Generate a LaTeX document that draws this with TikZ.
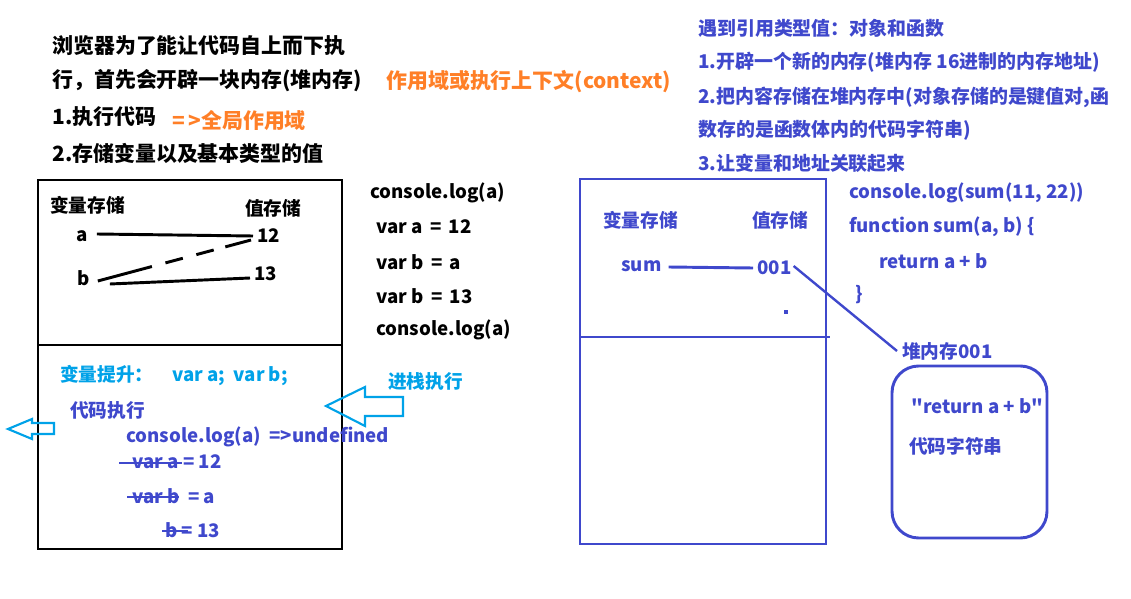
\documentclass[tikz,border=0pt]{standalone}
\usepackage{fontspec}
\setmainfont{Noto Sans CJK SC}[Ligatures=TeXOff]
\definecolor{ind}{HTML}{3F48CC}
\definecolor{lb}{HTML}{00A2E8}
\definecolor{org}{HTML}{FF7F27}
\begin{document}
\begin{tikzpicture}[x=0.75pt,y=-0.75pt,
  txt/.style={anchor=west,inner sep=0pt,font=\fontsize{15.7}{18}\selectfont\bfseries},
  rtx/.style={anchor=west,inner sep=0pt,font=\fontsize{14.2}{17}\selectfont\bfseries,text=ind},
  code/.style={anchor=west,inner sep=0pt,font=\fontsize{14}{16}\selectfont\bfseries},
  box/.style={line width=2.2pt},
  conn/.style={line width=2.2pt},
  hollow/.style={draw=lb,line width=1.6pt,line join=miter}]
\useasboundingbox (0,0) rectangle (1131,599);
% top-left text
\node[txt] (l1) at (52,46) {浏览器为了能让代码自上而下执};
\node[txt] (l2) at (52,81) {行，首先会开辟一块内存(堆内存)};
\node[txt] (l3) at (52,117) {1.执行代码};
\node[txt,text=org] (l3b) at (172,121) {=\,>全局作用域};
\node[txt] (l4) at (52,153) {2.存储变量以及基本类型的值};
\node[txt,text=org] (ctx) at (386,82) {作用域或执行上下文(context)};
% left box
\draw[box] (38,180) rectangle (342,549);
\draw[box] (38,345) -- (342,345);
\node[code] (vs) at (50,205) {变量存储};
\node[code] (zs) at (245,208) {值存储};
\node[code] (a) at (76,236) {a};
\node[code] (n12) at (257,236) {12};
\node[code] (b) at (77,278) {b};
\node[code] (n13) at (254,274) {13};
\draw[conn] ([shift={(9,-2)}]a.east) -- ([shift={(-4,0)}]n12.west);
\draw[conn,dash pattern=on 42pt off 10.5pt on 13.5pt off 10.5pt on 13.5pt off 9pt on 20pt] ([shift={(8,3)}]b.east) -- ([shift={(-6,4)}]n12.west);
\draw[conn] ([shift={(20,6)}]b.east) -- ([shift={(-4,4)}]n13.west);
% lower part
\node[code,text=lb] (hoist) at (60,376) {变量提升：\quad var a;\ \ var b;};
\node[code,text=ind] (exe) at (70,410) {代码执行};
\node[code,text=ind] (c1) at (126,437) {console.log(a)\ \ =>undefined};
\node[code,text=ind] (c2) at (132,462) {var a = 12};
\node[code,text=ind] (c3) at (132,496) {var b\ \ = a};
\node[code,text=ind] (c4) at (165,530) {b = 13};
\draw[ind,line width=1.8pt] (119,463) -- (182,463);
\draw[ind,line width=1.8pt] (127,497) -- (179,497);
\draw[ind,line width=1.8pt] (162,531) -- (188,531);
% hollow arrows
\draw[hollow] (8,429) -- (32,419) -- (32,423) -- (54,423) -- (54,434) -- (32,434) -- (32,439) -- cycle;
\draw[hollow] (326,406) -- (365,387) -- (365,397) -- (403,397) -- (403,416) -- (365,416) -- (365,426) -- cycle;
\node[code,text=lb] (push) at (388,381) {进栈执行};
% middle code
\node[code] (m1) at (370,193) {console.log(a)};
\node[code] (m2) at (376,227) {var a\ \,=\ \,12};
\node[code] (m3) at (376,262) {var b\ \,=\ \,a};
\node[code] (m4) at (376,296) {var b\ \,=\ \,13};
\node[code] (m5) at (376,330) {console.log(a)};
% top-right text
\node[rtx] (r1) at (698,28) {遇到引用类型值：对象和函数};
\node[rtx] (r2) at (698,62) {1.开辟一个新的内存(堆内存 16进制的内存地址)};
\node[rtx] (r3) at (698,97) {2.把内容存储在堆内存中(对象存储的是键值对,函};
\node[rtx] (r4) at (698,130) {数存的是函数体内的代码字符串)};
\node[rtx] (r5) at (698,163) {3.让变量和地址关联起来};
% right box
\draw[box,ind] (580,179) rectangle (826,544);
\draw[box,ind] (580,337) -- (830,337);
\node[code,text=ind] (rvs) at (603,220) {变量存储};
\node[code,text=ind] (rzs) at (752,220) {值存储};
\node[code,text=ind] (sum) at (621,266) {sum};
\node[code,text=ind] (a001) at (757,268) {001};
\fill[ind] (784,310) rectangle (788,314);
\draw[conn,ind] ([shift={(7,1)}]sum.east) -- ([shift={(-4,0)}]a001.west);
% right code
\node[code,text=ind] (k1) at (849,193) {console.log(sum(11, 22))};
\node[code,text=ind] (k2) at (849,227) {function sum(a, b) \{};
\node[code,text=ind] (k3) at (879,261) {return a\ +\ b};
\node[code,text=ind] (k4) at (855,295) {\}};
% heap
\node[code,text=ind] (heap) at (902,351) {堆内存001};
\draw[conn,ind,line width=1.8pt] ([shift={(2,-2)}]a001.east) -- ([shift={(-5,0)}]heap.west);
\draw[box,ind,rounded corners=20] (892,366) rectangle (1047,538);
\node[code,text=ind] (h1) at (911,406) {"return a\ +\ b"};
\node[code,text=ind] (h2) at (909,446) {代码字符串};
\end{tikzpicture}
\end{document}
